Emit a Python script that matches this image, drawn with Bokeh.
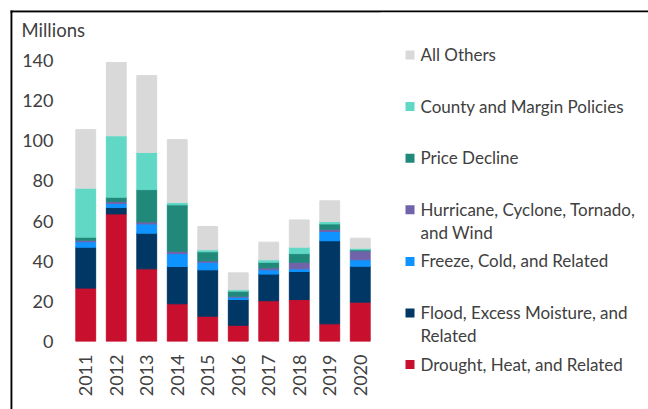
import numpy as np
from bokeh.plotting import figure
from bokeh.models import ColumnDataSource, FixedTicker, FactorRange, Range1d
from bokeh.core.properties import value
from bokeh.embed import file_html
from bokeh.resources import INLINE

# ---- data (millions) ----
years = ["2011", "2012", "2013", "2014", "2015", "2016", "2017", "2018", "2019", "2020"]
drought = [26.6, 63.6, 36.2, 18.8, 12.6, 8.1, 20.3, 20.9, 8.8, 19.6]
flood = [20.4, 3.2, 17.8, 18.6, 23.1, 12.8, 13.3, 14.0, 41.4, 17.9]
freeze = [2.7, 2.0, 4.6, 6.4, 3.8, 1.2, 2.1, 1.3, 4.6, 3.2]
hurricane = [0.8, 1.0, 1.0, 1.2, 0.7, 0.5, 1.0, 3.3, 1.2, 4.5]
price = [1.5, 2.1, 16.1, 23.1, 4.5, 2.5, 2.8, 4.3, 2.6, 0.5]
county = [24.4, 30.6, 18.5, 1.2, 1.0, 0.7, 1.2, 3.2, 1.2, 0.8]
others = [29.2, 36.5, 38.3, 31.3, 11.6, 8.4, 8.8, 13.6, 10.3, 5.0]

stack_keys = ["drought", "flood", "freeze", "hurricane", "price", "county", "others"]
series_labels = [
    ["Drought, Heat, and Related"],
    ["Flood, Excess Moisture, and", "Related"],
    ["Freeze, Cold, and Related"],
    ["Hurricane, Cyclone, Tornado,", "and Wind"],
    ["Price Decline"],
    ["County and Margin Policies"],
    ["All Others"],
]
colors = ["#C8102E", "#003764", "#0F94FF", "#7163AA", "#21897A", "#60D8C5", "#D9D9D9"]
y_ticks = [0, 20, 40, 60, 80, 100, 120, 140]

FONT = "Lato"
TXT = "#404040"

src = ColumnDataSource(dict(year=years, drought=drought, flood=flood, freeze=freeze,
                            hurricane=hurricane, price=price, county=county, others=others))

# page placement
PW, PH = 648, 409
OX, OY = 12, 12
H = 397
W1 = 368
W2 = 268


def bare(fig):
    fig.xgrid.grid_line_color = None
    fig.ygrid.grid_line_color = None
    fig.outline_line_color = None


# ---- background: outer frame lines (top and left) ----
bg = figure(x_range=Range1d(0, PW), y_range=Range1d(PH, 0), width=PW, height=PH,
            output_backend="svg", toolbar_location=None,
            x_axis_type=None, y_axis_type=None, min_border=0)
bg.styles = {"position": "absolute", "left": "0px", "top": "0px"}
bare(bg)
bg.quad(left=[10, 10], right=[12, PW], top=[10, 10], bottom=[PH, 12],
        fill_color="black", line_color=None)

# ---- main chart ----
p = figure(x_range=FactorRange(*years, range_padding=0), y_range=Range1d(0, 150),
           width=W1, height=H, output_backend="svg", toolbar_location=None,
           min_border_left=58, min_border_right=5, min_border_top=28, min_border_bottom=68)
p.styles = {"position": "absolute", "left": f"{OX}px", "top": f"{OY}px"}
bare(p)

p.vbar_stack(stack_keys, x="year", width=0.65, color=colors, source=src)

p.yaxis.ticker = FixedTicker(ticks=y_ticks)
for ax in (p.xaxis[0], p.yaxis[0]):
    ax.axis_line_color = None
    ax.major_tick_line_color = None
    ax.minor_tick_line_color = None
    ax.major_tick_out = 0
    ax.major_tick_in = 0
    ax.minor_tick_out = 0
    ax.major_label_text_font = FONT
    ax.major_label_text_font_size = "18px"
    ax.major_label_text_color = TXT
p.yaxis.major_label_standoff = 17
p.xaxis.major_label_standoff = 13
p.xaxis.major_label_orientation = np.pi / 2

# "Millions" unit label as a left-aligned title shifted over the tick labels
p.title.text = "Millions"
p.title.align = "left"
p.title.offset = -49
p.title.standoff = 0
p.title.text_font = FONT
p.title.text_font_size = "18.5px"
p.title.text_font_style = "normal"
p.title.text_color = TXT

# ---- legend panel: frame fills whole figure, data units = page pixels ----
lx0 = OX + W1
leg = figure(x_range=Range1d(lx0, lx0 + W2), y_range=Range1d(OY + H, OY),
             width=W2, height=H, output_backend="svg", toolbar_location=None,
             x_axis_type=None, y_axis_type=None, min_border=0)
leg.styles = {"position": "absolute", "left": f"{lx0}px", "top": f"{OY}px"}
bare(leg)

first, step = 54.0, 51.6
sq_x, sq_y, sq_c = [], [], []
t_x, t_y, t_s = [], [], []
for i, idx in enumerate(reversed(range(len(stack_keys)))):
    cy = first + i * step
    sq_x.append(409.5)
    sq_y.append(cy + 0.5)
    sq_c.append(colors[idx])
    for j, line in enumerate(series_labels[idx]):
        t_x.append(420)
        t_y.append(cy + j * 23)
        t_s.append(line)

leg.rect(x=sq_x, y=sq_y, width=9, height=9, fill_color=sq_c, line_color=None)
leg.text(x=t_x, y=t_y, text=t_s, text_font=value(FONT), text_font_size="17px",
         text_color=TXT, text_baseline="middle", text_align="left")

open("out.html", "w").write(file_html([bg, p, leg], INLINE))
